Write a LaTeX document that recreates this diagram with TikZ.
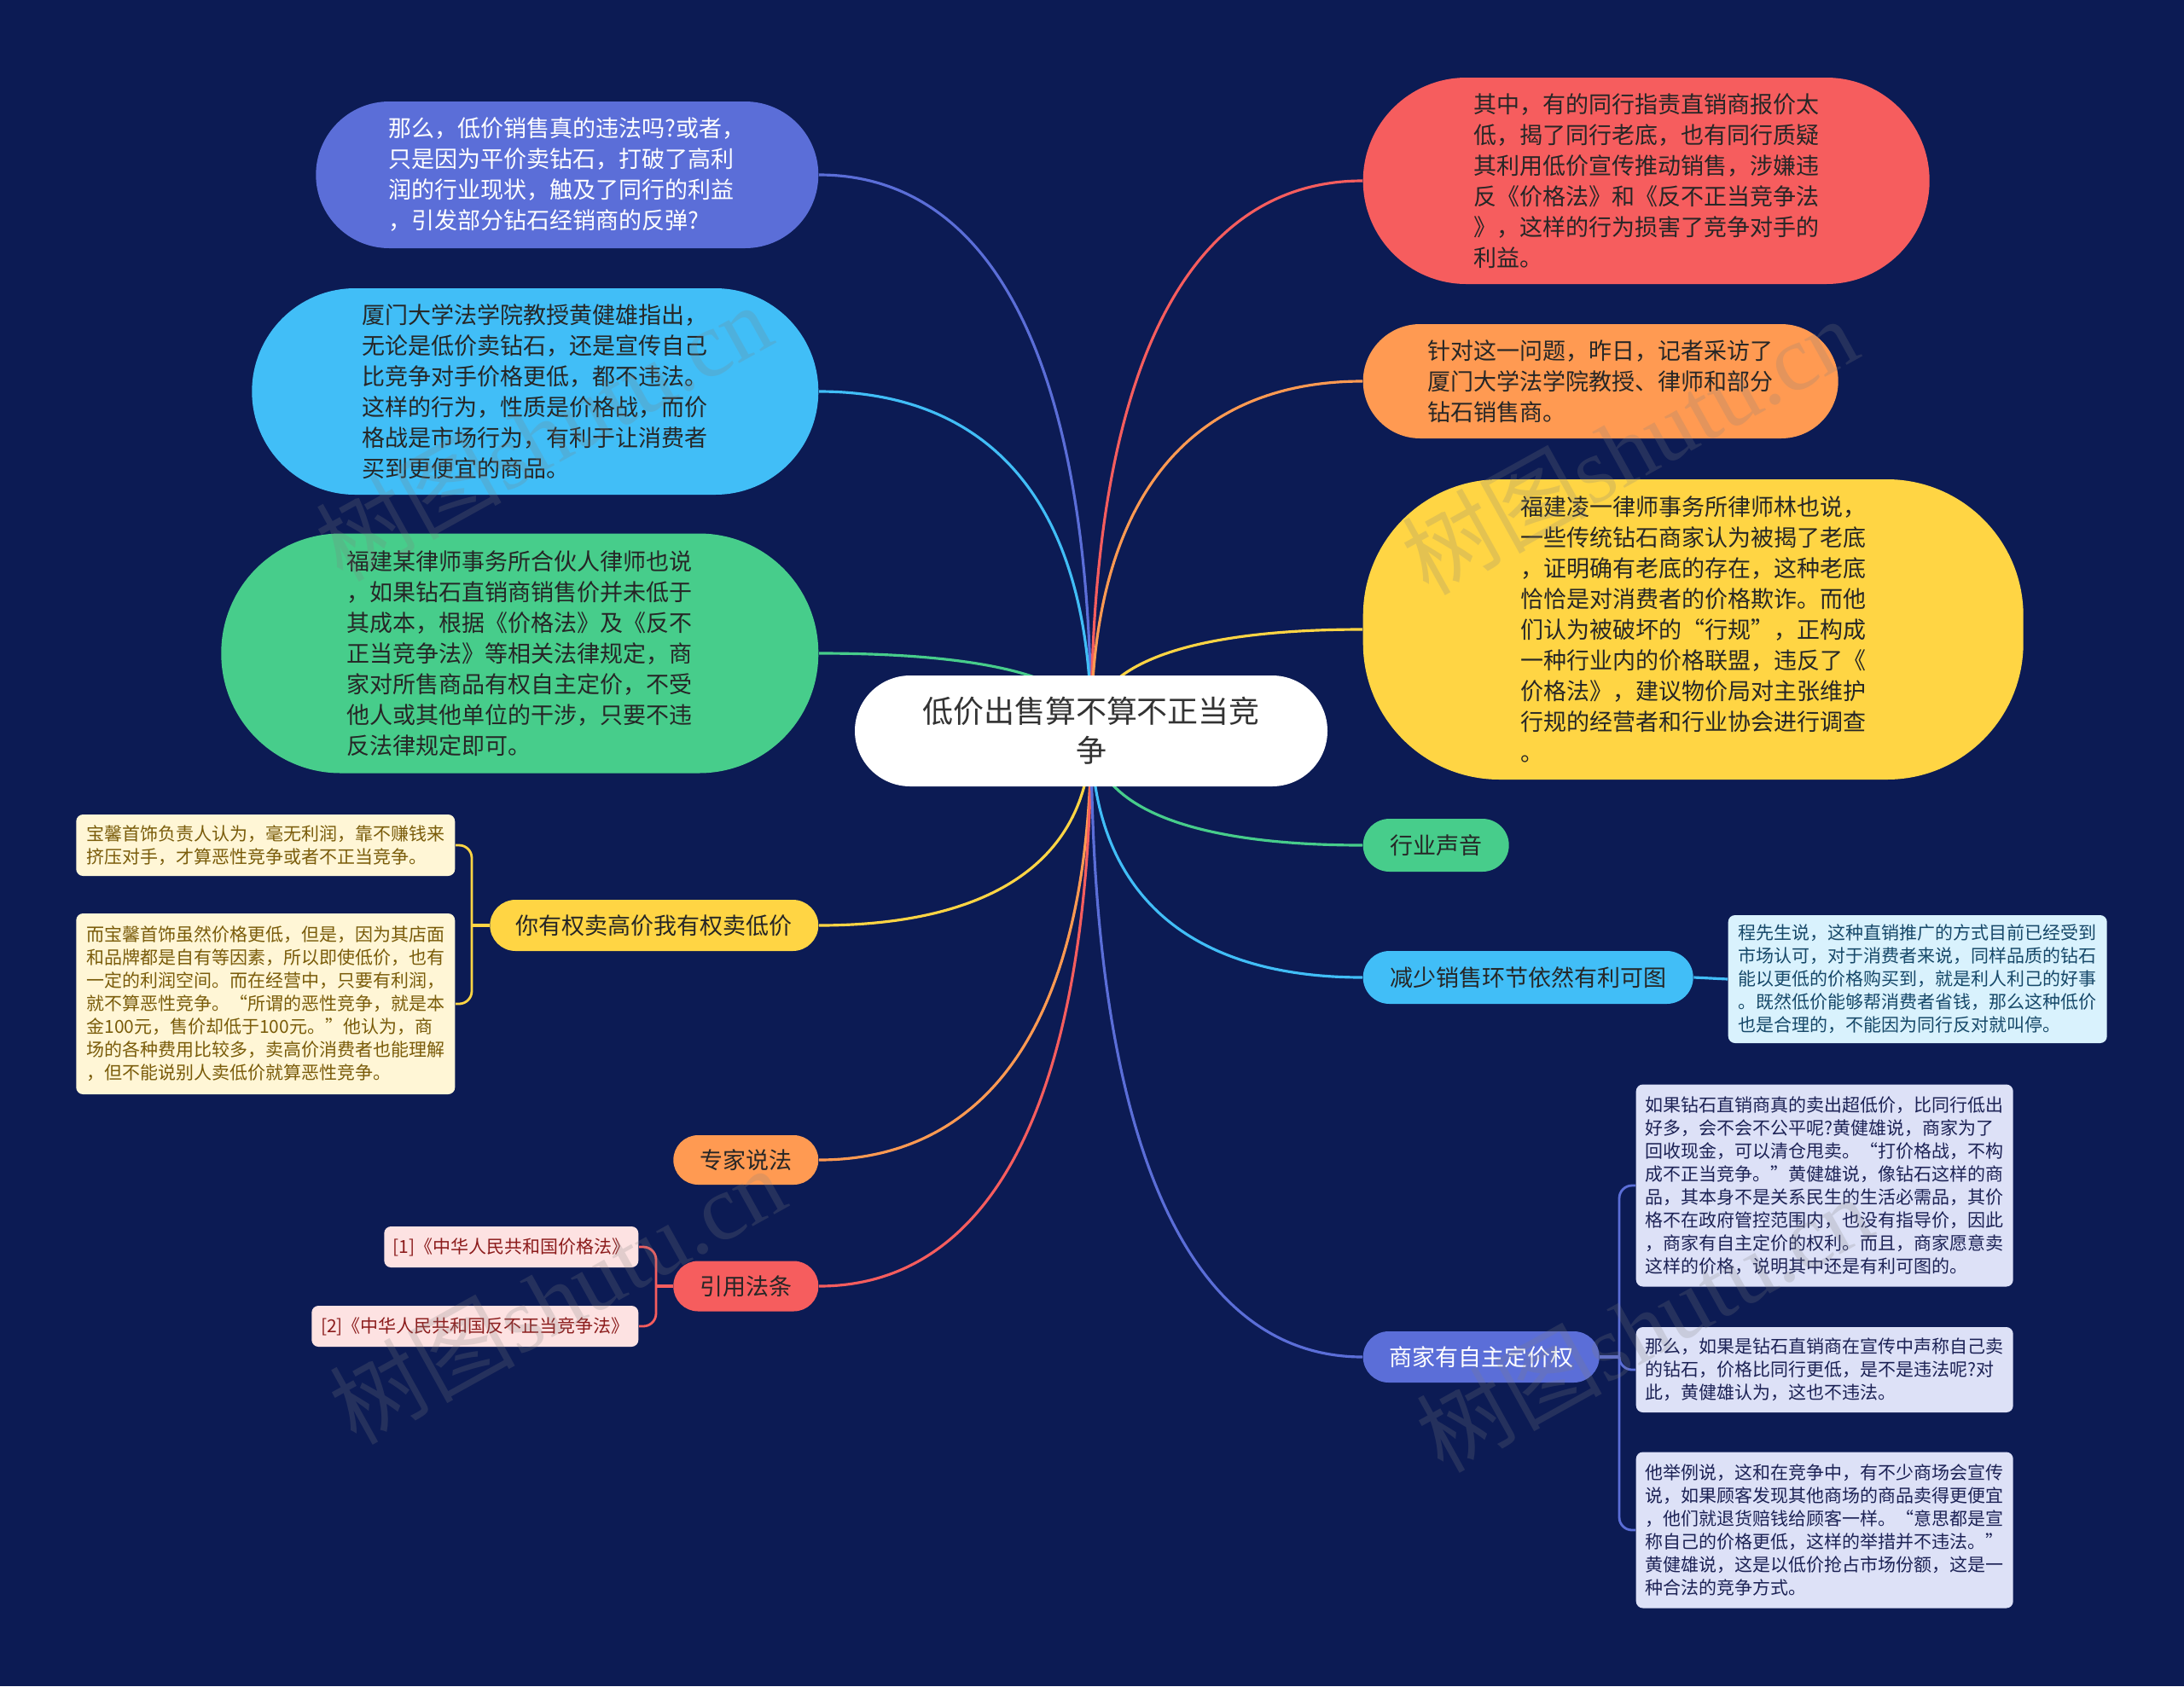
\documentclass[tikz,border=0pt]{standalone}
\usepackage{fontspec}
\setmainfont{Noto Sans CJK SC}
\newfontfamily\wmfont{Liberation Serif}
\usepackage{xcolor}
\definecolor{navy}{RGB}{12,27,84}
\definecolor{cPeri}{RGB}{91,110,216}
\definecolor{cSky}{RGB}{65,190,247}
\definecolor{cGreen}{RGB}{71,205,139}
\definecolor{cGold}{RGB}{255,213,68}
\definecolor{cOrange}{RGB}{255,154,82}
\definecolor{cRed}{RGB}{246,93,94}
\definecolor{lfGold}{RGB}{255,246,214}
\definecolor{lfGoldT}{RGB}{122,92,10}
\definecolor{lfRed}{RGB}{253,226,226}
\definecolor{lfRedT}{RGB}{140,28,28}
\definecolor{lfSky}{RGB}{217,242,253}
\definecolor{lfSkyT}{RGB}{22,72,105}
\definecolor{lfPeri}{RGB}{221,225,247}
\definecolor{lfPeriT}{RGB}{28,34,85}
\newcommand{\rootfont}{\fontsize{10.24pt}{13.1pt}\selectfont}
\newcommand{\topicfont}{\fontsize{7.68pt}{10.24pt}\selectfont}
\newcommand{\leaffont}{\fontsize{5.97pt}{7.68pt}\selectfont}
\pgfdeclarelayer{bg}
\pgfdeclarelayer{links}
\pgfsetlayers{bg,links,main}
\tikzset{
  rootn/.style ={fill=white, text=black!80, font=\rootfont, align=center, inner sep=0pt,
                 minimum width=5.54cm, minimum height=1.30cm, rounded corners=0.65cm},
  topic/.style ={font=\topicfont, align=left, inner sep=0pt, text=black!85},
  leaf/.style  ={font=\leaffont, align=left, inner sep=0pt, rounded corners=0.08cm, minimum width=4.44cm},
  link/.style  ={line width=0.9pt},
  brace/.style ={line width=0.8pt, rounded corners=0.15cm},
  wm/.style    ={font=\fontsize{31pt}{31pt}\selectfont, text=gray, text opacity=0.22, rotate=29},
}

\begin{document}
\begin{tikzpicture}
  \begin{pgfonlayer}{bg}
  \fill[navy] (0,0) rectangle (25.6,-19.77);
  \end{pgfonlayer}
  \useasboundingbox (0,0) rectangle (25.6,-19.77);

  \node[rootn] (root) at (12.79,-8.57) {低价出售算不算不正当竞\\争};

  \node[topic, fill=cPeri, text=white, minimum width=5.89cm, minimum height=1.72cm, rounded corners=0.86cm, anchor=east] (qa) at (9.60,-2.05)
    {那么，低价销售真的违法吗?或者，\\只是因为平价卖钻石，打破了高利\\润的行业现状，触及了同行的利益\\，引发部分钻石经销商的反弹?};
  \node[topic, fill=cSky, minimum width=6.64cm, minimum height=2.42cm, rounded corners=1.21cm, anchor=east] (prof) at (9.60,-4.59)
    {厦门大学法学院教授黄健雄指出，\\无论是低价卖钻石，还是宣传自己\\比竞争对手价格更低，都不违法。\\这样的行为，性质是价格战，而价\\格战是市场行为，有利于让消费者\\买到更便宜的商品。};
  \node[topic, fill=cGreen, minimum width=7.00cm, minimum height=2.81cm, rounded corners=1.40cm, anchor=east] (lawA) at (9.60,-7.66)
    {福建某律师事务所合伙人律师也说\\，如果钻石直销商销售价并未低于\\其成本，根据《价格法》及《反不\\正当竞争法》等相关法律规定，商\\家对所售商品有权自主定价，不受\\他人或其他单位的干涉，只要不违\\反法律规定即可。};
  \node[topic, fill=cGold, minimum width=3.85cm, minimum height=0.60cm, rounded corners=0.30cm, anchor=east] (rights) at (9.60,-10.85) {你有权卖高价我有权卖低价};
  \node[topic, fill=cOrange, minimum width=1.70cm, minimum height=0.58cm, rounded corners=0.29cm, anchor=east] (expert) at (9.60,-13.60) {专家说法};
  \node[topic, fill=cRed, minimum width=1.70cm, minimum height=0.59cm, rounded corners=0.29cm, anchor=east] (law) at (9.60,-15.08) {引用法条};

  \node[topic, fill=cRed, minimum width=6.64cm, minimum height=2.42cm, rounded corners=1.21cm, anchor=west] (peer) at (15.97,-2.12)
    {其中，有的同行指责直销商报价太\\低，揭了同行老底，也有同行质疑\\其利用低价宣传推动销售，涉嫌违\\反《价格法》和《反不正当竞争法\\》，这样的行为损害了竞争对手的\\利益。};
  \node[topic, fill=cOrange, minimum width=5.57cm, minimum height=1.34cm, rounded corners=0.67cm, anchor=west] (reporter) at (15.97,-4.47)
    {针对这一问题，昨日，记者采访了\\厦门大学法学院教授、律师和部分\\钻石销售商。};
  \node[topic, fill=cGold, minimum width=7.74cm, minimum height=3.52cm, rounded corners=1.60cm, anchor=west] (lawB) at (15.97,-7.38)
    {福建凌一律师事务所律师林也说，\\一些传统钻石商家认为被揭了老底\\，证明确有老底的存在，这种老底\\恰恰是对消费者的价格欺诈。而他\\们认为被破坏的“行规”，正构成\\一种行业内的价格联盟，违反了《\\价格法》，建议物价局对主张维护\\行规的经营者和行业协会进行调查\\。};
  \node[topic, fill=cGreen, minimum width=1.71cm, minimum height=0.62cm, rounded corners=0.31cm, anchor=west] (voice) at (15.97,-9.91) {行业声音};
  \node[topic, fill=cSky, minimum width=3.87cm, minimum height=0.62cm, rounded corners=0.31cm, anchor=west] (fewer) at (15.97,-11.46) {减少销售环节依然有利可图};
  \node[topic, fill=cPeri, text=white, minimum width=2.77cm, minimum height=0.60cm, rounded corners=0.30cm, anchor=west] (selfprice) at (15.97,-15.91) {商家有自主定价权};

  \node[leaf, fill=lfGold, text=lfGoldT, minimum height=0.72cm, anchor=east] (lfA) at (5.34,-9.91)
    {宝馨首饰负责人认为，毫无利润，靠不赚钱来\\挤压对手，才算恶性竞争或者不正当竞争。};
  \node[leaf, fill=lfGold, text=lfGoldT, minimum height=2.12cm, anchor=east] (lfB) at (5.34,-11.77)
    {而宝馨首饰虽然价格更低，但是，因为其店面\\和品牌都是自有等因素，所以即使低价，也有\\一定的利润空间。而在经营中，只要有利润，\\就不算恶性竞争。“所谓的恶性竞争，就是本\\金100元，售价却低于100元。”他认为，商\\场的各种费用比较多，卖高价消费者也能理解\\，但不能说别人卖低价就算恶性竞争。};
  \node[leaf, fill=lfRed, text=lfRedT, minimum width=2.98cm, minimum height=0.48cm, anchor=east] (lawP) at (7.49,-14.62) {{}[1]《中华人民共和国价格法》};
  \node[leaf, fill=lfRed, text=lfRedT, minimum width=3.83cm, minimum height=0.48cm, anchor=east] (lawU) at (7.49,-15.55) {{}[2]《中华人民共和国反不正当竞争法》};

  \node[leaf, fill=lfSky, text=lfSkyT, minimum height=1.50cm, anchor=west] (fewerNote) at (20.25,-11.48)
    {程先生说，这种直销推广的方式目前已经受到\\市场认可，对于消费者来说，同样品质的钻石\\能以更低的价格购买到，就是利人利己的好事\\。既然低价能够帮消费者省钱，那么这种低价\\也是合理的，不能因为同行反对就叫停。};
  \node[leaf, fill=lfPeri, text=lfPeriT, minimum width=4.42cm, minimum height=2.37cm, anchor=west] (kA) at (19.17,-13.90)
    {如果钻石直销商真的卖出超低价，比同行低出\\好多，会不会不公平呢?黄健雄说，商家为了\\回收现金，可以清仓甩卖。“打价格战，不构\\成不正当竞争。”黄健雄说，像钻石这样的商\\品，其本身不是关系民生的生活必需品，其价\\格不在政府管控范围内，也没有指导价，因此\\，商家有自主定价的权利。而且，商家愿意卖\\这样的价格，说明其中还是有利可图的。};
  \node[leaf, fill=lfPeri, text=lfPeriT, minimum width=4.42cm, minimum height=1.00cm, anchor=west] (kB) at (19.17,-16.06)
    {那么，如果是钻石直销商在宣传中声称自己卖\\的钻石，价格比同行更低，是不是违法呢?对\\此，黄健雄认为，这也不违法。};
  \node[leaf, fill=lfPeri, text=lfPeriT, minimum width=4.42cm, minimum height=1.83cm, anchor=west] (kC) at (19.17,-17.94)
    {他举例说，这和在竞争中，有不少商场会宣传\\说，如果顾客发现其他商场的商品卖得更便宜\\，他们就退货赔钱给顾客一样。“意思都是宣\\称自己的价格更低，这样的举措并不违法。”\\黄健雄说，这是以低价抢占市场份额，这是一\\种合法的竞争方式。};

  \coordinate (jA) at (5.53,-10.85);
  \coordinate (jB) at (7.69,-15.08);
  \coordinate (jC) at (18.98,-15.91);

  \begin{pgfonlayer}{links}
  \draw[link, cPeri]   (root.center) .. controls +(0,4.56)  and +(1.91,0)  .. (qa.east);
  \draw[link, cSky]    (root.center) .. controls +(0,2.79)  and +(1.91,0)  .. (prof.east);
  \draw[link, cGreen]  (root.center) .. controls +(0,0.64)  and +(1.91,0)  .. (lawA.east);
  \draw[link, cGold]   (root.center) .. controls +(0,-1.60) and +(1.91,0)  .. (rights.east);
  \draw[link, cOrange] (root.center) .. controls +(0,-3.52) and +(1.91,0)  .. (expert.east);
  \draw[link, cRed]    (root.center) .. controls +(0,-4.56) and +(1.91,0)  .. (law.east);
  \draw[link, cRed]    (root.center) .. controls +(0,4.52)  and +(-1.91,0) .. (peer.west);
  \draw[link, cOrange] (root.center) .. controls +(0,2.87)  and +(-1.91,0) .. (reporter.west);
  \draw[link, cGold]   (root.center) .. controls +(0,0.83)  and +(-1.91,0) .. (lawB.west);
  \draw[link, cGreen]  (root.center) .. controls +(0,-0.94) and +(-1.91,0) .. (voice.west);
  \draw[link, cSky]    (root.center) .. controls +(0,-2.02) and +(-1.91,0) .. (fewer.west);
  \draw[link, cPeri]   (root.center) .. controls +(0,-5.14) and +(-1.91,0) .. (selfprice.west);

  \draw[link, cGold] (rights.west) -- (jA);
  \draw[brace, cGold] (lfA.east) -| (jA) |- (lfB.east);
  \draw[link, cRed] (law.west) -- (jB);
  \draw[brace, cRed] (lawP.east) -| (jB) |- (lawU.east);
  \draw[link, cSky] (fewer.east) -- (fewerNote.west);
  \draw[link, cPeri] (selfprice.east) -- (jC);
  \draw[brace, cPeri] (kA.west) -| (jC) |- (kC.west);
  \draw[brace, cPeri] (jC) |- (kB.west);
  \end{pgfonlayer}

  \node[wm] (wm1) at (6.37,-5.06)  {树图{\wmfont shutu.cn}};
  \node[wm] (wm2) at (19.10,-5.22) {树图{\wmfont shutu.cn}};
  \node[wm] (wm3) at (6.53,-15.18) {树图{\wmfont shutu.cn}};
  \node[wm] (wm4) at (19.27,-15.51) {树图{\wmfont shutu.cn}};
\end{tikzpicture}
\end{document}
